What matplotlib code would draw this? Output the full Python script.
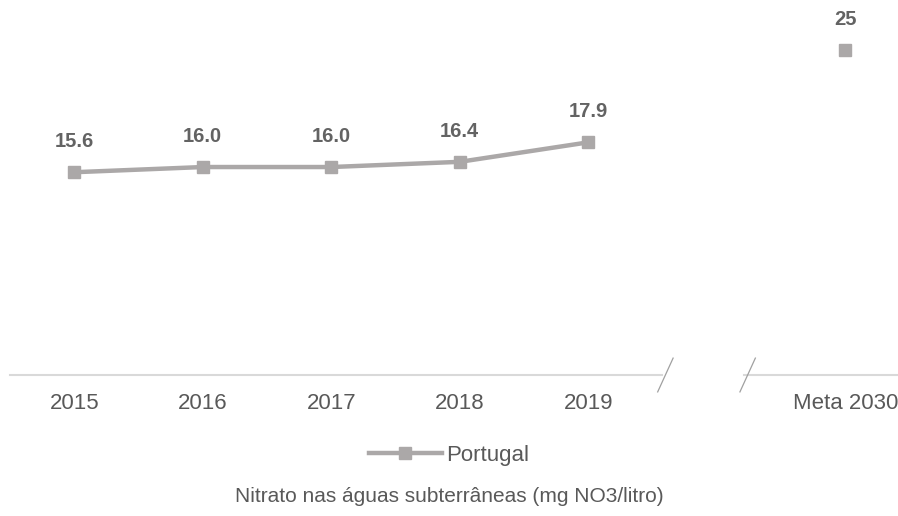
import matplotlib
matplotlib.use('Agg')
import matplotlib.pyplot as plt
from matplotlib.lines import Line2D

plt.rcParams['font.family'] = ['Liberation Sans', 'DejaVu Sans']

# data
categories = ['2015', '2016', '2017', '2018', '2019', '', 'Meta 2030']
years = ['2015', '2016', '2017', '2018', '2019']
portugal = [15.6, 16.0, 16.0, 16.4, 17.9]
meta_2030 = 25
series_name = 'Portugal'
caption = 'Nitrato nas águas subterrâneas (mg NO3/litro)'

grey = '#ABA8A8'
label_color = '#636363'
tick_color = '#595959'

fig = plt.figure(figsize=(8.98, 5.16), dpi=100)
ax = fig.add_axes([10 / 898, 141 / 516, 888 / 898, 375 / 516])

x = list(range(len(years)))
ax.plot(x, portugal, color=grey, lw=3.2, marker='s', ms=9, mec=grey, mfc=grey,
        solid_capstyle='round')
meta_x = categories.index('Meta 2030')
ax.plot([meta_x], [meta_2030], ls='none', marker='s', ms=9, color=grey)

for xi, v in zip(x, portugal):
    ax.annotate(f'{v:.1f}', (xi, v), xytext=(0, 22), textcoords='offset points',
                ha='center', va='center', fontsize=14.5, fontweight='bold', color=label_color)
ax.annotate(f'{meta_2030}', (meta_x, meta_2030), xytext=(0, 22), textcoords='offset points',
            ha='center', va='center', fontsize=14.5, fontweight='bold', color=label_color)

ax.set_xlim(-0.5, 6.41)
ax.set_ylim(0, 28.85)
for s in ax.spines.values():
    s.set_visible(False)
ax.set_yticks([])
ax.set_xticks(range(len(categories)))
ax.set_xticklabels(categories, fontsize=16, color=tick_color)
ax.tick_params(axis='x', length=0, pad=13)

# axis line with break
b1, b2 = 4.6, 5.24
ax.plot([-0.5, b1 - 0.03], [0, 0], color='#D9D9D9', lw=1.5, clip_on=False)
ax.plot([b2 - 0.03, 6.41], [0, 0], color='#D9D9D9', lw=1.5, clip_on=False)
for b in (b1, b2):
    ax.plot([b - 0.06, b + 0.06], [-1.3, 1.3], color='#A0A0A0', lw=0.9, clip_on=False)

# legend
handle = Line2D([], [], color=grey, lw=3.2, marker='s', ms=9, mfc=grey, mec=grey)
fig.legend([handle], [series_name], loc='center', bbox_to_anchor=(0.5, 1 - 455 / 516),
           frameon=False, fontsize=16, handlelength=3.3, handletextpad=0.2,
           labelcolor=tick_color)

fig.text(0.5, 1 - 497 / 516, caption, ha='center', va='center', fontsize=15, color=tick_color)

fig.savefig('out.png', dpi=100)
